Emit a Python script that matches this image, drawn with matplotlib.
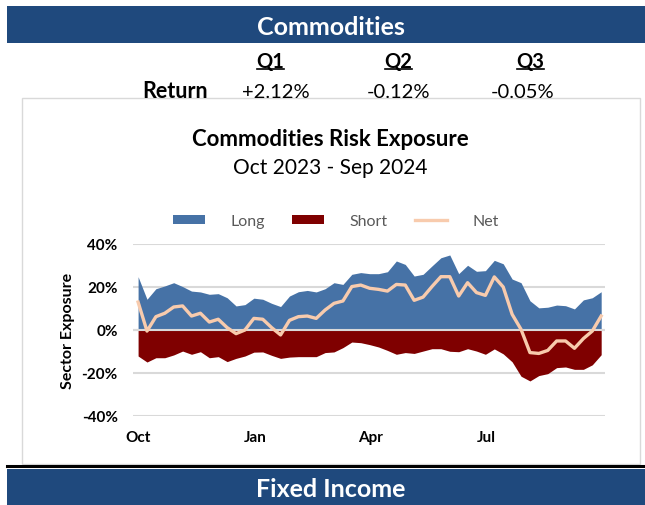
import pandas as pd
import matplotlib
matplotlib.use('Agg')
import matplotlib.pyplot as plt
from matplotlib.patches import Rectangle, Patch
from matplotlib.lines import Line2D

plt.rcParams['font.family'] = ['Lato', 'DejaVu Sans']

# weekly exposure, in percent
weeks = pd.date_range('2023-10-01', periods=53, freq='7D')
long_exp = [24.8, 14.3, 19.2, 20.5, 22.0, 20.2, 18.1, 17.7, 16.6, 16.9, 15.0, 11.2, 11.8,
            14.8, 14.3, 12.4, 10.9, 15.8, 17.8, 18.4, 17.7, 19.2, 22.0, 21.2, 25.9, 26.7,
            26.2, 26.2, 27.1, 32.1, 30.5, 25.1, 25.9, 29.8, 33.6, 34.9, 26.2, 30.1, 27.3,
            27.6, 32.4, 30.8, 23.7, 22.0, 13.6, 10.3, 10.6, 11.6, 11.3, 9.8, 14.0, 15.0, 17.8]
short_exp = [-12.1, -14.9, -12.9, -12.9, -11.6, -9.8, -11.3, -10.1, -12.9, -12.4, -14.7, -13.2, -12.1,
             -10.3, -10.2, -11.8, -13.2, -12.6, -12.4, -12.4, -12.4, -10.5, -10.2, -8.2, -5.6, -5.9,
             -6.8, -7.9, -9.5, -11.3, -10.5, -10.9, -9.8, -8.7, -8.7, -9.9, -10.1, -8.7, -9.8,
             -11.3, -8.8, -11.1, -14.8, -21.5, -23.7, -21.2, -20.3, -17.5, -17.2, -18.3, -18.3, -16.2, -11.5]
net_exp = [13.0, -0.5, 6.2, 7.8, 10.7, 11.2, 6.5, 7.8, 3.7, 5.0, 1.1, -1.7, 0.0,
           5.4, 5.0, 1.1, -2.3, 4.5, 6.2, 6.5, 5.4, 9.3, 12.4, 13.5, 20.2, 20.9,
           19.4, 18.9, 18.1, 21.2, 20.9, 13.8, 15.3, 20.2, 24.8, 24.8, 15.8, 22.0, 17.4,
           16.1, 24.7, 20.0, 7.3, 0.3, -10.5, -10.9, -9.5, -5.1, -5.1, -8.5, -4.0, -0.5, 6.5]

quarters = ['Q1', 'Q2', 'Q3']
quarter_returns = ['+2.12%', '-0.12%', '-0.05%']
month_ticks = pd.to_datetime(['2023-10-01', '2024-01-01', '2024-04-01', '2024-07-01'])
month_labels = ['Oct', 'Jan', 'Apr', 'Jul']
y_ticks = [40, 20, 0, -20, -40]

W, H = 645, 506
fig = plt.figure(figsize=(W / 100, H / 100), dpi=100)


def fx(x):
    return x / W


def fy(y):
    return 1 - y / H


navy = '#1F497D'
blue = '#4672A6'
red = '#7F0000'
peach = '#F8CBAD'

# header banner
fig.add_artist(Rectangle((fx(7), fy(44)), fx(645) - fx(7), fy(7) - fy(44),
                         facecolor=navy, edgecolor='none', transform=fig.transFigure, zorder=-2))
fig.text(fx(331), fy(27.5), 'Commodities', color='white', fontsize=18, fontweight='bold',
         ha='center', va='center')

# quarterly returns table
q_x = [270, 398, 530]
ret_x = [276, 398, 523]
for q, xq, r, xr in zip(quarters, q_x, quarter_returns, ret_x):
    fig.text(fx(xq), fy(62), q, fontsize=14.5, fontweight='bold', ha='center', va='center')
    fig.add_artist(Line2D([fx(xq - 13.5), fx(xq + 13.5)], [fy(70), fy(70)], color='black',
                          lw=1.2, transform=fig.transFigure))
    fig.text(fx(xr), fy(92), r, fontsize=14.5, ha='center', va='center')
fig.text(fx(208), fy(92), 'Return', fontsize=15.5, fontweight='bold', ha='right', va='center')

# chart frame
fig.add_artist(Rectangle((fx(22), fy(465)), fx(640) - fx(22), fy(99) - fy(465),
                         facecolor='white', edgecolor='#D9D9D9', lw=1,
                         transform=fig.transFigure, zorder=-1))
fig.text(fx(330), fy(139.5), 'Commodities Risk Exposure', fontsize=16, fontweight='bold',
         ha='center', va='center')
fig.text(fx(330), fy(168), 'Oct 2023 - Sep 2024', fontsize=15, ha='center', va='center')

ax = fig.add_axes([fx(133), fy(417), fx(605) - fx(133), fy(245) - fy(417)])
ax.set_zorder(1)
ax.set_facecolor('none')
ax.fill_between(weeks, 0, long_exp, color=blue, lw=0, label='Long', zorder=2)
ax.fill_between(weeks, short_exp, 0, color=red, lw=0, label='Short', zorder=2)
ax.axhline(0, color='#D9D9D9', lw=1.5, zorder=3)
ax.plot(weeks, net_exp, color=peach, lw=2.4, label='Net', zorder=4)

ax.set_ylim(-40, 40)
ax.set_yticks(y_ticks)
ax.set_yticklabels([f'{v}%' for v in y_ticks], fontweight='bold', fontsize=11)
ax.yaxis.grid(True, color='#D9D9D9', lw=1.5, zorder=0)
ax.set_axisbelow(True)
ax.set_xlim(weeks[0] - pd.Timedelta(days=4), weeks[-1] + pd.Timedelta(days=3))
ax.set_xticks(month_ticks)
ax.set_xticklabels(month_labels, fontweight='bold', fontsize=11)
ax.tick_params(length=0)
ax.tick_params(axis='y', pad=11)
ax.tick_params(axis='x', pad=10)
for s in ax.spines.values():
    s.set_visible(False)

fig.text(fx(68), fy(331), 'Sector Exposure', rotation=90, fontsize=11.5, fontweight='bold',
         ha='center', va='center')

handles = [Patch(facecolor=blue, label='Long'), Patch(facecolor=red, label='Short'),
           Line2D([], [], color=peach, lw=2.4, label='Net')]
fig.legend(handles=handles, loc='center', bbox_to_anchor=(fx(336), fy(222)), ncol=3,
           frameon=False, fontsize=11.5, handlelength=2.0, handleheight=0.55,
           handletextpad=1.6, columnspacing=1.7, labelcolor='#595959')

# black rule and next banner
fig.add_artist(Line2D([fx(7), fx(645)], [fy(467), fy(467)], color='black', lw=2.2,
                      transform=fig.transFigure))
fig.add_artist(Rectangle((fx(7), fy(506)), fx(645) - fx(7), fy(470) - fy(506),
                         facecolor=navy, edgecolor='none', transform=fig.transFigure, zorder=-2))
fig.text(fx(331), fy(490), 'Fixed Income', color='white', fontsize=18, fontweight='bold',
         ha='center', va='center')

fig.savefig('out.png', dpi=100)
